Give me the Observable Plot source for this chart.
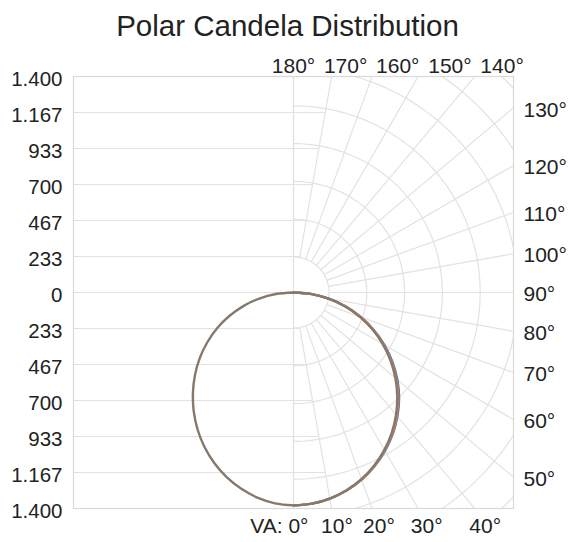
<!DOCTYPE html>
<html><head><meta charset="utf-8">
<script src="https://cdn.jsdelivr.net/npm/d3@7"></script>
<script src="https://cdn.jsdelivr.net/npm/@observablehq/plot@0.6"></script>
<style>
body{margin:0;background:#fff;font-family:"Liberation Sans",Arial,sans-serif;}
#title{height:44px;line-height:52px;text-align:center;font-size:29.5px;color:#222;white-space:nowrap;}
#chart svg{display:block;}
</style></head><body>
<div id="title">Polar Candela Distribution</div>
<div id="chart"></div>
<script>
// ---- data (candela per vertical angle) ----
const angles   = [0,5,10,15,20,25,30,35,40,45,50,55,60,65,70,75,80,85,90];
const c0Gray   = [1380,1374,1356,1327,1288,1238,1178,1110,1034,951,862,768,668,564,456,345,232,118,0];
const c180Gray = [1380,1372,1350,1316,1272,1218,1155,1084,1006,922,834,742,645,545,441,334,225,114,0];
const c90Blue  = [1380,1374,1357,1329,1291,1243,1186,1121,1048,968,879,782,681,574,464,351,236,120,0];
const c45Orange= [1380,1374,1356,1328,1290,1241,1182,1116,1042,960,870,775,674,569,460,348,234,119,0];

// ---- axis ticks / labels ----
const yTicks  = [1400,1166.67,933.33,700,466.67,233.33,0,-233.33,-466.67,-700,-933.33,-1166.67,-1400];
const yLabels = ["1.400","1.167","933","700","467","233","0","233","467","700","933","1.167","1.400"];
const topAngles    = [180,170,160,150,140];
const rightAngles  = [130,120,110,100,90,80,70,60,50];
const bottomAngles = [0,10,20,30,40];
const bottomLabels = ["VA: 0°","10°","20°","30°","40°"];
const rayAngles = [0,10,20,30,40,50,60,70,80,90,100,110,120,130,140,150,160,170,180];
const arcRadii  = [230,475,720,965,1210,1455,1700,1945];

// ---- layout helpers ----
const XMAX = 1426, YMAX = 1400;
const TOP_ROW = 1465, BOTTOM_ROW = -1517, BOTTOM_RAY_ROW = -1450, TOP_STEP = 338;
const rad = a => a*Math.PI/180;
const onRayAtY = (a, Y) => { const t = Y/(-Math.cos(rad(a))); return t*Math.sin(rad(a)); };

const curvePts = (vals, side, name) => angles.map((a,i)=>({name, x: side*vals[i]*Math.sin(rad(a)), y: -vals[i]*Math.cos(rad(a))}));
const grayPts = [...curvePts(c180Gray,-1,"g").reverse(), ...curvePts(c0Gray,1,"g")];
const bluePts = curvePts(c90Blue,1,"b");
const orangePts = curvePts(c45Orange,1,"o");

const rays = rayAngles.map(a => ({a,
  x1: arcRadii[0]*Math.sin(rad(a)), y1: -arcRadii[0]*Math.cos(rad(a)),
  x2: 2400*Math.sin(rad(a)), y2: -2400*Math.cos(rad(a))}));
const arcs = arcRadii.flatMap(r => d3.range(0,181,2).map(a => ({r, x: r*Math.sin(rad(a)), y: -r*Math.cos(rad(a))})));
const tan10 = Math.tan(rad(10));
const hLines = yTicks.map(y => ({y, x2: y===0 ? 0 : Math.abs(y)*tan10}));

const bottomData = bottomAngles.map((a,i) => ({a, label: bottomLabels[i], x: onRayAtY(a, BOTTOM_RAY_ROW)}));

const gridColor = "#e5e1e1";
const textFill = "#222";

const chart = Plot.plot({
  width: 575, height: 498,
  marginLeft: 73, marginRight: 62, marginTop: 32, marginBottom: 34,
  x: {domain: [-XMAX, XMAX], axis: null},
  y: {domain: [-YMAX, YMAX], axis: null},
  style: {fontFamily: "'Liberation Sans', Arial, sans-serif", background: "#fff"},
  marks: [
    Plot.link(hLines, {x1: -XMAX, x2: "x2", y1: "y", y2: "y", stroke: gridColor, strokeWidth: 1.2}),
    Plot.ruleX([0], {stroke: gridColor, strokeWidth: 1.2}),
    Plot.link(rays, {x1: "x1", y1: "y1", x2: "x2", y2: "y2", stroke: gridColor, strokeWidth: 1.2, clip: true}),
    Plot.line(arcs, {x: "x", y: "y", z: "r", stroke: gridColor, strokeWidth: 1.2, clip: true}),
    Plot.frame({stroke: "#dcd8d8", strokeWidth: 1.2}),
    Plot.line(bluePts, {x: "x", y: "y", stroke: "#3a7fc4", strokeWidth: 2.4, curve: "catmull-rom"}),
    Plot.line(orangePts, {x: "x", y: "y", stroke: "#e07a3a", strokeWidth: 2.4, curve: "catmull-rom"}),
    Plot.line(grayPts, {x: "x", y: "y", stroke: "#85796d", strokeWidth: 2.4, curve: "catmull-rom"}),
    Plot.text(yTicks, {x: -XMAX, y: d => d, text: (d,i) => yLabels[i], textAnchor: "end", dx: -11, dy: 3, fontSize: 20.5, fill: textFill}),
    Plot.text(rightAngles, {x: XMAX, y: a => -XMAX*Math.cos(rad(a))/Math.sin(rad(a)), text: a => a + "°", textAnchor: "start", dx: 10, dy: 2, fontSize: 21, fill: textFill}),
    Plot.text(topAngles, {x: a => (180 - a)/10*TOP_STEP, y: TOP_ROW, text: a => a + "°", textAnchor: "middle", fontSize: 21, fill: textFill}),
    Plot.text(bottomData.filter(d => d.a === 0), {x: "x", y: BOTTOM_ROW, text: "label", textAnchor: "end", dx: 15, fontSize: 21, fill: textFill}),
    Plot.text(bottomData.filter(d => d.a !== 0), {x: "x", y: BOTTOM_ROW, text: "label", textAnchor: "middle", dx: 4, fontSize: 21, fill: textFill})
  ]
});
document.getElementById("chart").appendChild(chart);
</script>
</body></html>
